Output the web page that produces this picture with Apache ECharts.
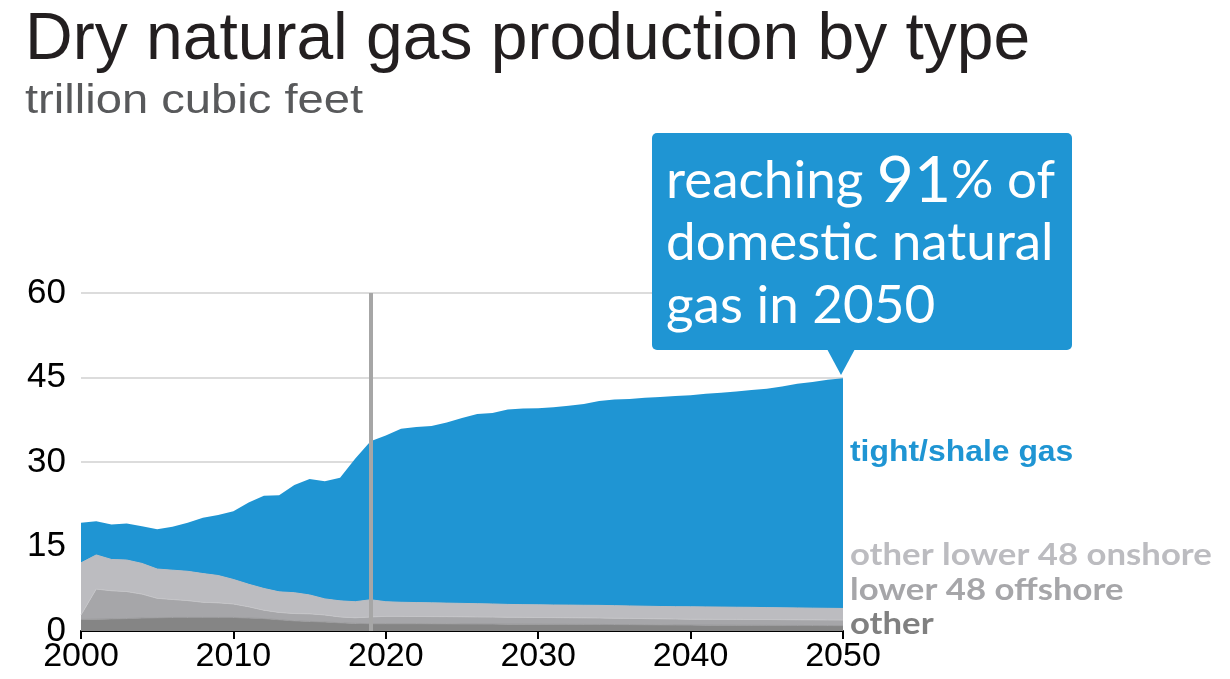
<!DOCTYPE html>
<html>
<head>
<meta charset="utf-8">
<script src="https://cdn.jsdelivr.net/npm/echarts@6/dist/echarts.min.js"></script>
<style>html,body{margin:0;padding:0;background:#fff}#c{width:1230px;height:679px}</style>
</head>
<body>
<div id="c"></div>
<script>
var years = [];
for (var y = 2000; y <= 2050; y++) years.push(String(y));

var other = [2.05,2.1,2.15,2.2,2.3,2.35,2.4,2.4,2.4,2.4,2.4,2.3,2.2,2.0,1.8,1.7,1.6,1.45,1.35,1.3,
  1.3,1.3,1.3,1.28,1.27,1.25,1.24,1.23,1.22,1.21,1.2,1.19,1.18,1.17,1.16,1.14,1.13,1.11,1.09,1.07,
  1.05,1.04,1.03,1.02,1.01,1.0,0.99,0.98,0.97,0.96,0.95];
var offshore = [0.8,5.35,5.0,4.8,4.25,3.45,3.2,3.0,2.7,2.6,2.4,2.0,1.5,1.3,1.3,1.35,1.25,1.05,1.0,1.2,
  1.3,1.3,1.28,1.28,1.28,1.28,1.26,1.25,1.24,1.23,1.2,1.19,1.18,1.17,1.16,1.14,1.12,1.09,1.08,1.07,
  1.05,1.05,1.05,1.05,1.04,1.04,1.03,1.02,1.02,1.01,1.0];
var onshore = [9.25,6.05,5.55,5.6,5.45,5.2,5.2,5.2,5.1,4.85,4.35,4.0,3.85,3.65,3.7,3.35,2.85,2.85,2.85,3.05,
  2.6,2.5,2.47,2.44,2.4,2.37,2.35,2.32,2.26,2.24,2.25,2.24,2.24,2.23,2.23,2.22,2.2,2.2,2.18,2.18,
  2.2,2.19,2.17,2.15,2.15,2.11,2.1,2.1,2.07,2.06,2.05];
var shale = [7.1,6.0,6.2,6.5,6.6,7.05,7.7,8.6,9.9,10.75,12.1,14.5,16.45,17.15,19.1,20.6,20.9,21.85,25.4,28.15,
  29.5,30.8,31.15,31.4,32.05,32.9,33.65,33.9,34.58,34.82,34.9,35.08,35.4,35.73,36.3,36.6,36.75,37.0,37.2,37.38,
  37.55,37.82,38.05,38.28,38.6,38.85,39.28,39.8,40.14,40.57,40.85];

var xTicks = ['2000', '2010', '2020', '2030', '2040', '2050'];
var yTicks = [0, 15, 30, 45, 60];
var historyEnd = '2019';

var chart = echarts.init(document.getElementById('c'), null, {renderer: 'canvas'});

function areaSeries(name, data, color, lineColor) {
  return {
    name: name, type: 'line', stack: 'total', data: data,
    showSymbol: false, symbol: 'none', silent: true,
    lineStyle: {width: lineColor ? 1 : 0, color: lineColor || color},
    areaStyle: {color: color, opacity: 1},
    itemStyle: {color: color}
  };
}

var s4 = areaSeries('tight/shale gas', shale, '#1f95d3');
s4.markLine = {
  silent: true, symbol: ['none', 'none'], label: {show: false},
  lineStyle: {color: '#a6a6a6', width: 4, type: 'solid'},
  data: [{xAxis: historyEnd}]
};

function isTick(i, v) { return xTicks.indexOf(String(v)) >= 0; }

chart.setOption({
  animation: false,
  grid: {left: 81, right: 387, top: 293, bottom: 48},
  xAxis: {
    type: 'category', data: years, boundaryGap: false,
    axisLine: {show: true, lineStyle: {color: '#000', width: 2}},
    axisTick: {show: true, length: 8, interval: isTick, lineStyle: {color: '#000', width: 2}},
    splitLine: {show: false},
    axisLabel: {fontFamily: 'Liberation Sans, Arial', fontSize: 34, color: '#000', margin: 9, interval: isTick}
  },
  yAxis: {
    type: 'value', min: 0, max: 60, interval: 15,
    axisLine: {show: false}, axisTick: {show: false},
    splitLine: {show: true, lineStyle: {color: '#dcdcdc', width: 2}},
    axisLabel: {fontFamily: 'Liberation Sans, Arial', fontSize: 35, color: '#000', margin: 15,
      formatter: function (v) { return yTicks.indexOf(v) >= 0 ? String(v) : ''; }}
  },
  series: [
    areaSeries('other', other, '#858585', '#9a9a9c'),
    areaSeries('lower 48 offshore', offshore, '#a6a6a9', '#c4c4c7'),
    areaSeries('other lower 48 onshore', onshore, '#bcbcc0', '#bcbcc0'),
    s4
  ],
  graphic: [
    {type: 'text', x: 25, y: 41, style: {
      text: 'Dry natural gas production by type', verticalAlign: 'middle', fill: '#231f20',
      font: '66px "Liberation Sans", Arial'}},
    {type: 'text', x: 25, y: 102, scaleX: 1.15, originX: 0, style: {
      text: 'trillion cubic feet', verticalAlign: 'middle', fill: '#58595b',
      font: '41px "Liberation Sans", Arial'}},
    {type: 'rect', shape: {x: 652, y: 133, width: 420, height: 217, r: 5}, style: {fill: '#1f95d3'}, z: 100},
    {type: 'polygon', shape: {points: [[827, 349], [855, 349], [841, 375]]}, style: {fill: '#1f95d3'}, z: 100},
    {type: 'text', x: 666, y: 181, z: 101, style: {
      text: '{a|reaching }{b|91}{a|% of}', verticalAlign: 'middle', fill: '#fff',
      rich: {a: {fontFamily: 'Lato', fontSize: 53, fill: '#fff'}, b: {fontFamily: 'Lato', fontSize: 64, fill: '#fff'}}}},
    {type: 'text', x: 666, y: 243, z: 101, style: {
      text: 'domestic natural', verticalAlign: 'middle', fill: '#fff', font: '53px Lato'}},
    {type: 'text', x: 666, y: 306, z: 101, style: {
      text: 'gas in 2050', verticalAlign: 'middle', fill: '#fff', font: '53px Lato'}},
    {type: 'text', x: 850, y: 453, z: 101, scaleX: 1.1, originX: 0, style: {
      text: 'tight/shale gas', verticalAlign: 'middle', fill: '#1f95d3', font: 'bold 29px "Liberation Sans", Arial'}},
    {type: 'text', x: 850, y: 555, z: 101, scaleX: 1.12, originX: 0, style: {
      text: 'other lower 48 onshore', verticalAlign: 'middle', fill: '#bcbcc0', font: 'bold 31px Lato'}},
    {type: 'text', x: 850, y: 590, z: 101, scaleX: 1.12, originX: 0, style: {
      text: 'lower 48 offshore', verticalAlign: 'middle', fill: '#a6a6a9', font: 'bold 31px Lato'}},
    {type: 'text', x: 850, y: 624, z: 101, scaleX: 1.12, originX: 0, style: {
      text: 'other', verticalAlign: 'middle', fill: '#808080', font: 'bold 31px Lato'}}
  ]
});
</script>
</body>
</html>
